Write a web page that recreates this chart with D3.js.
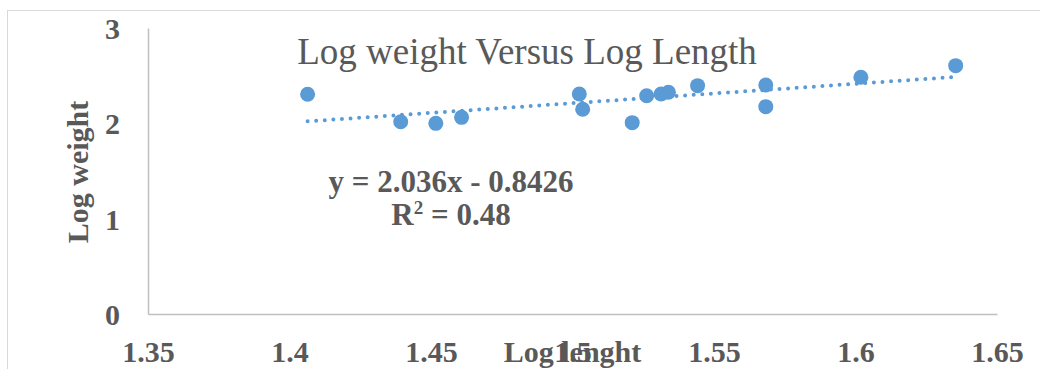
<!DOCTYPE html>
<html>
<head>
<meta charset="utf-8">
<script src="https://cdn.jsdelivr.net/npm/d3@7"></script>
<style>
  html, body { margin: 0; padding: 0; background: #fff; }
  svg { display: block; }
  text { font-family: "Liberation Serif", "Times New Roman", serif; fill: #595959; }
</style>
</head>
<body>
<svg id="chart" width="1040" height="369"></svg>
<script>
// ---- data ----
const logLength = [1.4064, 1.4393, 1.4517, 1.4608, 1.5024, 1.5036, 1.5211, 1.5262, 1.5313, 1.5339, 1.5442, 1.5683, 1.5683, 1.6019, 1.6354];
const logWeight = [2.305, 2.017, 2.000, 2.063, 2.308, 2.147, 2.007, 2.290, 2.308, 2.326, 2.395, 2.402, 2.175, 2.483, 2.605];
const xTicks = [1.35, 1.4, 1.45, 1.5, 1.55, 1.6, 1.65];
const yTicks = [0, 1, 2, 3];
const trendSlope = 2.036;
const trendIntercept = -0.8426;
const trendLabel = "y = 2.036x - 0.8426";
const r2Value = "0.48";
const chartTitle = "Log weight Versus Log Length";
const xTitle = "Log lenght";
const yTitle = "Log weight";

// ---- layout ----
const svg = d3.select("#chart");
const x = d3.scaleLinear().domain([1.35, 1.65]).range([148, 997]);
const y = d3.scaleLinear().domain([0, 3]).range([314, 28]);
const blue = "#5B9BD5";

// chart frame
svg.append("rect").attr("x", 7.5).attr("y", 10.5).attr("width", 1040).attr("height", 370)
  .attr("fill", "none").attr("stroke", "#d9d9d9").attr("stroke-width", 1);

// axes
const xAxis = d3.axisBottom(x).tickValues(xTicks).tickSize(0).tickPadding(0)
  .tickFormat(d => String(+d.toFixed(2)));
const gx = svg.append("g").attr("transform", `translate(0,${y(0)})`).call(xAxis);
gx.select(".domain").attr("stroke", "#bfbfbf").attr("stroke-width", 1.5);
gx.selectAll("text").attr("font-size", 30).attr("font-weight", "bold").attr("fill", "#595959")
  .attr("font-family", "Liberation Serif").attr("dy", null).attr("y", 48);

const yAxis = d3.axisLeft(y).tickValues(yTicks).tickSize(0).tickPadding(28)
  .tickFormat(d3.format("d"));
const gy = svg.append("g").attr("transform", `translate(${x(1.35)},0)`).call(yAxis);
gy.select(".domain").attr("stroke", "#bfbfbf").attr("stroke-width", 1.5);
gy.selectAll("text").attr("font-size", 30).attr("font-weight", "bold").attr("fill", "#595959")
  .attr("font-family", "Liberation Serif").attr("dy", "0.35em");

// trendline
const xMin = d3.min(logLength), xMax = d3.max(logLength);
const trendPts = [xMin, xMax].map(v => [x(v), y(trendSlope * v + trendIntercept)]);
svg.append("path").attr("d", d3.line()(trendPts))
  .attr("fill", "none").attr("stroke", blue).attr("stroke-width", 4)
  .attr("stroke-linecap", "round").attr("stroke-dasharray", "0 8.6");

// points
svg.append("g").selectAll("circle").data(logLength).join("circle")
  .attr("cx", d => x(d)).attr("cy", (d, i) => y(logWeight[i])).attr("r", 7.5)
  .attr("fill", blue);

// title
svg.append("text").attr("x", 527).attr("y", 64).attr("text-anchor", "middle")
  .attr("font-size", 37).text(chartTitle);

// axis titles
svg.append("text").attr("x", x(1.5)).attr("y", 362).attr("text-anchor", "middle")
  .attr("font-size", 30).attr("font-weight", "bold").text(xTitle);
svg.append("text").attr("transform", "translate(88,172) rotate(-90)").attr("text-anchor", "middle")
  .attr("font-size", 30).attr("font-weight", "bold").text(yTitle);

// trendline label
svg.append("text").attr("x", 451).attr("y", 192).attr("text-anchor", "middle")
  .attr("font-size", 31).attr("font-weight", "bold").text(trendLabel);
const r2 = svg.append("text").attr("x", 451).attr("y", 225).attr("text-anchor", "middle")
  .attr("font-size", 31).attr("font-weight", "bold");
r2.append("tspan").text("R");
r2.append("tspan").attr("font-size", 19).attr("dy", -11).text("2");
r2.append("tspan").attr("dy", 11).text(" = " + r2Value);
</script>
</body>
</html>
